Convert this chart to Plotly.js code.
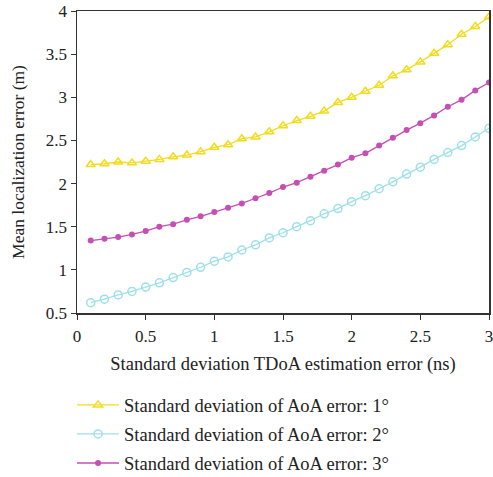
<!DOCTYPE html>
<html>
<head>
<meta charset="utf-8">
<script src="https://cdn.plot.ly/plotly-3.0.1.min.js"></script>
<style>html,body{margin:0;padding:0;background:#fff;}#chart{width:493px;height:477px;}</style>
</head>
<body>
<div id="chart"></div>
<script>
const xValues = [0.1,0.2,0.3,0.4,0.5,0.6,0.7,0.8,0.9,1.0,1.1,1.2,1.3,1.4,1.5,1.6,1.7,1.8,1.9,2.0,2.1,2.2,2.3,2.4,2.5,2.6,2.7,2.8,2.9,3.0];
const aoa1 = [2.22,2.23,2.25,2.24,2.26,2.28,2.31,2.33,2.37,2.42,2.45,2.52,2.54,2.60,2.67,2.73,2.78,2.84,2.94,3.00,3.07,3.14,3.25,3.32,3.41,3.51,3.61,3.73,3.82,3.93];
const aoa2 = [0.62,0.66,0.71,0.75,0.80,0.85,0.91,0.97,1.03,1.10,1.15,1.23,1.29,1.37,1.43,1.50,1.57,1.65,1.71,1.79,1.86,1.94,2.02,2.11,2.19,2.28,2.36,2.44,2.54,2.64];
const aoa3 = [1.34,1.36,1.38,1.41,1.45,1.50,1.53,1.58,1.62,1.67,1.72,1.77,1.83,1.89,1.96,2.01,2.08,2.15,2.22,2.30,2.35,2.44,2.53,2.62,2.70,2.79,2.89,2.97,3.08,3.17];
const seriesNames = ["Standard deviation of AoA error: 1°","Standard deviation of AoA error: 2°","Standard deviation of AoA error: 3°"];
const xTicks = [0,0.5,1,1.5,2,2.5,3];
const yTicks = [0.5,1,1.5,2,2.5,3,3.5,4];

const serif = "Liberation Serif, Times New Roman, serif";
const traces = [
  {x:xValues, y:aoa1, name:seriesNames[0], mode:"lines+markers", legendgroup:"a",
   line:{color:"#f2dc1c", width:1.3},
   marker:{symbol:"triangle-up-open", size:8, color:"#f2dc1c", line:{width:1.5}}},
  {x:xValues, y:aoa2, name:seriesNames[1], mode:"lines+markers", legendgroup:"b",
   line:{color:"#9fe0ea", width:1.3},
   marker:{symbol:"circle-open", size:8, color:"#9fe0ea", line:{width:1.5}}},
  {x:xValues, y:aoa3, name:seriesNames[2], mode:"lines+markers", legendgroup:"c",
   line:{color:"#c54fb4", width:1.3},
   marker:{symbol:"circle", size:6, color:"#c54fb4"}}
];
const layout = {
  width:493, height:477,
  margin:{l:77, r:4, t:11, b:164},
  paper_bgcolor:"#fff", plot_bgcolor:"#fff",
  font:{family:serif, size:16, color:"#222"},
  showlegend:true,
  legend:{orientation:"v", xref:"paper", x:-0.012, xanchor:"left",
          yref:"container", y:0.19, yanchor:"top",
          font:{family:serif, size:18.5, color:"#222"}, itemwidth:42,
          tracegroupgap:2, bgcolor:"rgba(0,0,0,0)"},
  xaxis:{range:[0,3], tickvals:xTicks, ticks:"outside", ticklen:5, tickcolor:"#333",
         showline:true, linecolor:"#333", linewidth:1.5, mirror:true, showgrid:false, zeroline:false,
         ticklabelstandoff:2, ticklabeloverflow:"allow", automargin:false,
         tickfont:{family:serif, size:17, color:"#222"},
         title:{text:"Standard deviation TDoA estimation error (ns)", font:{family:serif, size:18.5, color:"#222"}, standoff:12}},
  yaxis:{range:[0.5,4], tickvals:yTicks, ticks:"outside", ticklen:5, tickcolor:"#333",
         showline:true, linecolor:"#333", linewidth:1.5, mirror:true, showgrid:false, zeroline:false,
         tickfont:{family:serif, size:17, color:"#222"},
         title:{text:"Mean localization error (m)", font:{family:serif, size:17.5, color:"#222"}, standoff:16}}
};
Plotly.newPlot("chart", traces, layout, {displayModeBar:false, staticPlot:true});
</script>
</body>
</html>
